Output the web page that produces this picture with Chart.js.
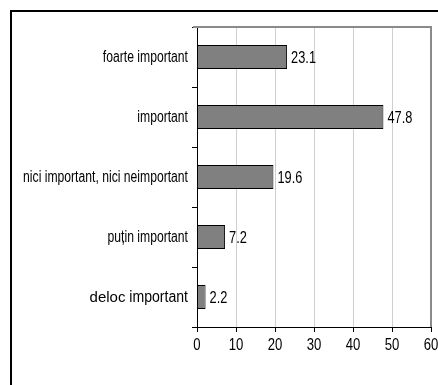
<!DOCTYPE html>
<html>
<head>
<meta charset="utf-8">
<script src="https://cdn.jsdelivr.net/npm/chart.js@4"></script>
<style>
  body { margin: 0; background: #fff; }
  #wrap { width: 438px; height: 385px; }
</style>
</head>
<body>
<div id="wrap"><canvas id="barChart" width="438" height="385"></canvas></div>
<script>
const categories = ['foarte important', 'important', 'nici important, nici neimportant', 'puțin important', 'deloc important'];
const values = [23.1, 47.8, 19.6, 7.2, 2.2];
const xTicks = [0, 10, 20, 30, 40, 50, 60];

const sans = '"Liberation Sans", Arial, sans-serif';

// draw condensed text (Arial Narrow look); x is the anchor in page pixels
function narrowText(ctx, txt, x, y, align, size, squeeze) {
  ctx.save();
  ctx.font = size + 'px ' + sans;
  ctx.textAlign = align;
  ctx.translate(x, y);
  ctx.scale(squeeze, 1);
  ctx.fillText(txt, 0, 0);
  const w = ctx.measureText(txt).width * squeeze;
  ctx.restore();
  return w;
}

const extras = {
  id: 'extras',
  beforeDraw(chart) {
    const ctx = chart.ctx;
    ctx.save();
    ctx.fillStyle = '#fff';
    ctx.fillRect(0, 0, chart.width, chart.height);
    ctx.strokeStyle = '#000';
    ctx.lineWidth = 2;
    ctx.strokeRect(11, 11, 600, 600);
    ctx.restore();
  },
  afterDraw(chart) {
    const ctx = chart.ctx;
    const y = chart.scales.y;
    const x = chart.scales.x;
    const a = chart.chartArea;
    ctx.save();
    // grey frame on top and right of the plot
    ctx.strokeStyle = '#8a8a8a';
    ctx.lineWidth = 2;
    ctx.beginPath();
    ctx.moveTo(a.left - 4, a.top);
    ctx.lineTo(a.right, a.top);
    ctx.lineTo(a.right, a.bottom);
    ctx.stroke();

    ctx.fillStyle = '#000';
    ctx.textBaseline = 'alphabetic';
    categories.forEach((c, i) => {
      const py = y.getPixelForValue(i) + 5;
      const rx = y.right - 9;
      if (c.startsWith('deloc')) {
        const w = narrowText(ctx, c.slice(5), rx, py, 'right', 16, 0.88);
        ctx.font = '15px ' + sans;
        ctx.textAlign = 'right';
        ctx.fillText('deloc', rx - w, py);
      } else {
        narrowText(ctx, c, rx, py, 'right', 16, 0.76);
      }
    });
    values.forEach((v, i) => {
      narrowText(ctx, v.toFixed(1), x.getPixelForValue(v) + 4, y.getPixelForValue(i) + 6, 'left', 16, 0.8);
    });
    xTicks.forEach(t => {
      narrowText(ctx, String(t), x.getPixelForValue(t), x.top + 23, 'center', 16, 0.82);
    });
    ctx.restore();
  }
};

new Chart(document.getElementById('barChart').getContext('2d'), {
  type: 'bar',
  data: {
    labels: categories,
    datasets: [{
      data: values,
      backgroundColor: '#808080',
      borderColor: '#000',
      borderWidth: 1,
      borderSkipped: false,
      categoryPercentage: 0.8,
      barPercentage: 0.5
    }]
  },
  options: {
    indexAxis: 'y',
    responsive: false,
    animation: false,
    devicePixelRatio: 1,
    layout: { padding: { top: 27, right: 7, left: 0, bottom: 0 } },
    plugins: { legend: { display: false }, tooltip: { enabled: false } },
    scales: {
      x: {
        min: 0, max: 60,
        afterBuildTicks(s) { s.ticks = xTicks.map(v => ({ value: v })); },
        afterFit(s) { s.height = 58; s.paddingLeft = 0; s.paddingRight = 0; },
        grid: { color: '#cfcfcf', tickColor: '#000', tickLength: 5, lineWidth: 1 },
        border: { color: '#000', width: 1 },
        ticks: { color: 'rgba(0,0,0,0)', font: { family: sans, size: 1 }, padding: 6, maxRotation: 0 }
      },
      y: {
        afterFit(s) { s.width = 197; s.paddingTop = 0; s.paddingBottom = 0; },
        grid: { drawOnChartArea: false, color: '#000', tickLength: 5, offset: true },
        border: { color: '#000', width: 1 },
        ticks: { color: 'rgba(0,0,0,0)', font: { family: sans, size: 1 } }
      }
    }
  },
  plugins: [extras]
});
</script>
</body>
</html>
